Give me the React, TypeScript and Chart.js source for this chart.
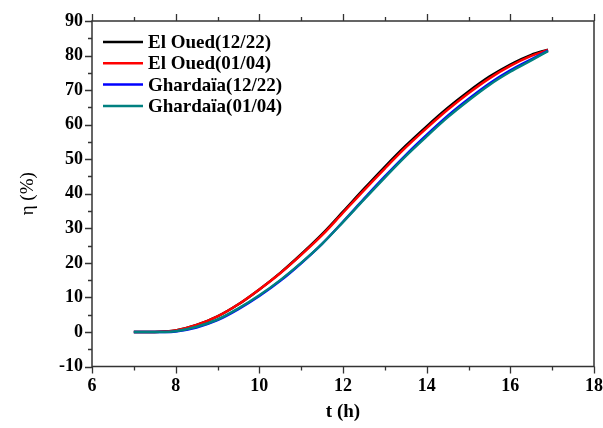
import React, { useEffect, useRef } from "react";
import { Chart, registerables } from "chart.js";

Chart.register(...registerables);

const tHours = [7, 7.5, 7.75, 8, 8.5, 9, 9.5, 10, 10.5, 11, 11.5, 12, 12.5, 13, 13.5, 14, 14.5, 15, 15.5, 16, 16.5, 16.9];
const elOued1222 = [0, 0, 0.1, 0.4, 2.0, 4.5, 8.0, 12.3, 17.1, 22.5, 28.3, 34.8, 41.4, 47.8, 53.9, 59.5, 64.8, 69.6, 73.9, 77.4, 80.2, 81.7];
const elOued0104 = [0, 0, 0.1, 0.4, 2.0, 4.5, 8.0, 12.3, 17.0, 22.3, 28.0, 34.5, 41.0, 47.3, 53.4, 59.0, 64.3, 69.1, 73.4, 77.0, 79.9, 81.6];
const ghardaia1222 = [0, 0, 0, 0.15, 1.3, 3.4, 6.6, 10.4, 14.8, 19.9, 25.5, 31.9, 38.5, 45.0, 51.2, 57.0, 62.5, 67.4, 71.9, 75.7, 78.9, 81.4];
const ghardaia0104 = [0, 0, 0, 0.2, 1.5, 3.6, 6.8, 10.6, 15.0, 20.0, 25.5, 31.8, 38.3, 44.7, 50.9, 56.6, 62.1, 67.0, 71.5, 75.3, 78.6, 81.3];

const seriesLabels = ["El Oued(12/22)", "El Oued(01/04)", "Ghardaïa(12/22)", "Ghardaïa(01/04)"];
const seriesColors = ["#000000", "#ff0000", "#0000ff", "#008080"];
const seriesValues = [elOued1222, elOued0104, ghardaia1222, ghardaia0104];

const xMin = 6, xMax = 18, xStep = 2, xMinorStep = 1;
const yMin = -10, yMax = 90, yStep = 10, yMinorStep = 5;
const xTitle = "t (h)";
const yTitle = "η (%)";

const SERIF = "'Liberation Serif', 'Times New Roman', serif";

const framePlugin = {
  id: "frame",
  afterDraw(chart: any) {
    const { ctx, chartArea, scales } = chart;
    const { left, right, top, bottom } = chartArea;
    const x = scales.x, y = scales.y;
    ctx.save();
    ctx.strokeStyle = "#333333";
    ctx.lineWidth = 1.5;
    ctx.strokeRect(left, top, right - left, bottom - top);
    ctx.lineWidth = 1.3;
    ctx.beginPath();
    for (let v = xMin; v <= xMax + 1e-9; v += xMinorStep) {
      const px = Math.round(x.getPixelForValue(v)) + 0.5;
      const major = Math.abs((v - xMin) % xStep) < 1e-9;
      const len = major ? 7 : 4;
      ctx.moveTo(px, bottom);
      ctx.lineTo(px, bottom + len);
      ctx.moveTo(px, top);
      ctx.lineTo(px, top - len);
    }
    for (let v = yMin; v <= yMax + 1e-9; v += yMinorStep) {
      const py = Math.round(y.getPixelForValue(v)) + 0.5;
      const major = Math.abs((v - yMin) % yStep) < 1e-9;
      const len = major ? 7 : 4;
      ctx.moveTo(left, py);
      ctx.lineTo(left - len, py);
    }
    ctx.stroke();
    ctx.restore();
  },
};

const legendPlugin = {
  id: "insideLegend",
  afterDatasetsDraw(chart: any) {
    const { ctx, chartArea } = chart;
    const x0 = chartArea.left + 11;
    const y0 = chartArea.top + 21;
    const rowH = 21.3;
    ctx.save();
    ctx.font = `bold 19px ${SERIF}`;
    ctx.textBaseline = "middle";
    ctx.fillStyle = "#000";
    seriesLabels.forEach((lab, i) => {
      const yy = y0 + i * rowH;
      ctx.strokeStyle = seriesColors[i];
      ctx.lineWidth = 2.5;
      ctx.beginPath();
      ctx.moveTo(x0, yy);
      ctx.lineTo(x0 + 40, yy);
      ctx.stroke();
      ctx.fillText(lab, x0 + 45, yy + 1);
    });
    ctx.restore();
  },
};

export default function App() {
  const ref = useRef<HTMLCanvasElement | null>(null);
  useEffect(() => {
    if (!ref.current) return;
    const drawOrder = [4, 3, 2, 1];
    const chart = new Chart(ref.current, {
      type: "line",
      data: {
        datasets: seriesLabels.map((lab, i) => ({
          label: lab,
          data: tHours.map((t, k) => ({ x: t, y: seriesValues[i][k] })),
          borderColor: seriesColors[i],
          backgroundColor: seriesColors[i],
          borderWidth: 2.5,
          pointRadius: 0,
          fill: false,
          cubicInterpolationMode: "monotone" as const,
          order: drawOrder[i],
        })),
      },
      options: {
        responsive: false,
        animation: false,
        layout: { padding: { top: 21, right: 9, left: 0, bottom: 0 } },
        plugins: {
          legend: { display: false },
          tooltip: { enabled: false },
        },
        scales: {
          x: {
            type: "linear",
            min: xMin,
            max: xMax,
            afterFit: (s: any) => { s.height = 61.5; s.paddingLeft = 0; s.paddingRight = 0; },
            afterBuildTicks: (s: any) => {
              const t = [];
              for (let v = xMin; v <= xMax; v += xStep) t.push({ value: v });
              s.ticks = t;
            },
            grid: { display: false, drawTicks: true, tickLength: 0 },
            border: { display: false },
            ticks: {
              padding: 9,
              color: "#000",
              font: { family: SERIF, size: 18, weight: 700 },
              maxRotation: 0,
            },
            title: {
              display: true,
              text: xTitle,
              color: "#000",
              font: { family: SERIF, size: 19, weight: 700 },
              padding: { top: 0, bottom: 5 },
            },
          },
          y: {
            type: "linear",
            min: yMin,
            max: yMax,
            afterFit: (s: any) => { s.width = 92; s.paddingTop = 0; s.paddingBottom = 0; },
            afterBuildTicks: (s: any) => {
              const t = [];
              for (let v = yMin; v <= yMax; v += yStep) t.push({ value: v });
              s.ticks = t;
            },
            grid: { display: false, drawTicks: true, tickLength: 0 },
            border: { display: false },
            ticks: {
              padding: 9,
              color: "#000",
              font: { family: SERIF, size: 18, weight: 700 },
            },
            title: {
              display: true,
              text: yTitle,
              color: "#000",
              font: { family: SERIF, size: 19, weight: 400 },
              padding: { top: 17, bottom: 0 },
            },
          },
        },
      },
      plugins: [framePlugin, legendPlugin],
    });
    return () => chart.destroy();
  }, []);
  return (
    <div style={{ position: "absolute", left: 0, top: 0, width: 603, height: 428, background: "#fff" }}>
      <canvas ref={ref} width={603} height={428} style={{ display: "block", width: 603, height: 428 }} />
    </div>
  );
}
